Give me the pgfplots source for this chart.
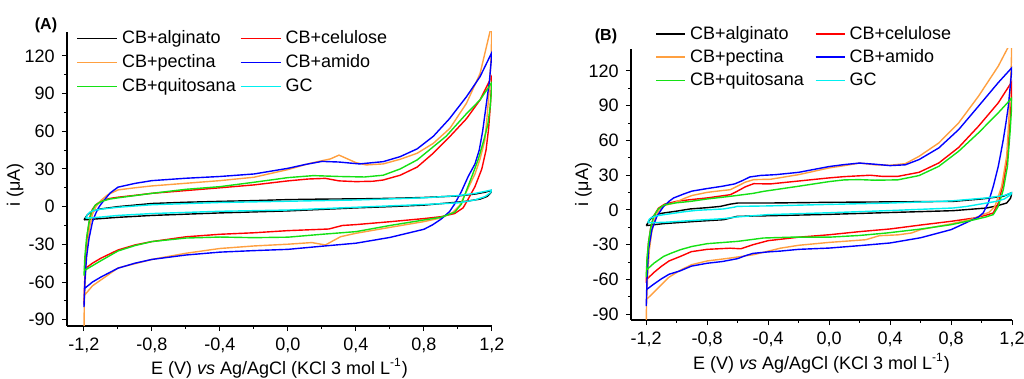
\documentclass[border=0pt]{standalone}
\usepackage{pgfplots}
\pgfplotsset{compat=1.18}
\usepackage{fontspec}
\setmainfont{Liberation Sans}
\definecolor{corange}{RGB}{255,160,64}
\definecolor{cgreen}{RGB}{20,225,20}
\definecolor{ccyan}{RGB}{0,240,240}
\definecolor{cblue}{RGB}{0,0,255}
\definecolor{cred}{RGB}{255,0,0}
\pgfplotsset{
  cvstyle/.style={
    scale only axis,
    axis x line*=bottom, axis y line*=left,
    axis line style={-, line width=0.6pt},
    tick align=outside,
    major tick length=2.6pt, minor tick length=1.5pt,
    every tick/.style={black, line width=0.5pt},
    xmin=-1.3, xmax=1.2, ymin=-95, ymax=139,
    xtick={-1.2,-0.8,-0.4,0,0.4,0.8,1.2},
    xticklabels={{-1,2},{-0,8},{-0,4},{0,0},{0,4},{0,8},{1,2}},
    minor x tick num=1,
    ytick={-90,-60,-30,0,30,60,90,120},
    yticklabels={-90,-60,-30,0,30,60,90,120},
    minor y tick num=1,
    tick label style={font=\fontsize{9}{10}\selectfont},
    label style={font=\fontsize{9}{10}\selectfont},
    xlabel={E (V) \textit{vs} Ag/AgCl (KCl 3 mol L\textsuperscript{-1})},
    ylabel={i (μA)},
    clip=true,
    legend columns=2,
    legend cell align=left,
    every axis plot/.append style={line width=0.7pt},
  }
}
\begin{document}
\begin{tikzpicture}
\useasboundingbox (0pt,0pt) rectangle (512pt,189.5pt);
% ================= Panel A =================
\begin{axis}[cvstyle,
  at={(33.5pt,26.5pt)}, anchor=south west,
  width=212.5pt, height=147pt,
  xlabel style={at={(axis description cs:0.5,-0.143)}, anchor=center},
  ylabel style={at={(axis description cs:-0.122,0.48)}, anchor=center, rotate=0},
  legend image code/.code={\draw[#1, line width=0.9pt] (0pt,0pt) -- (20pt,0pt);},
  legend style={draw=none, fill=none, font=\fontsize{9}{10}\selectfont,
    at={(axis description cs:0,1)}, anchor=north west, xshift=1.5pt, yshift=5pt,
    /tikz/every even column/.append style={column sep=0pt}},
]
\addplot[black] coordinates {(-1.2,-10.5) (-1.18,-6.5) (-1.15,-3.5) (-1.1,-1.8) (-1.0,0) (-0.8,2.5) (-0.6,3.5) (-0.4,4.2) (-0.2,4.8) (0.0,5.6) (0.2,6) (0.4,6.2) (0.6,6.6) (0.8,7.3) (1.0,8.5) (1.1,10) (1.16,11.5) (1.2,13) (1.19,10.5) (1.17,8) (1.13,6) (1.05,4.3) (1.0,3.6) (0.8,1.2) (0.6,0) (0.4,-1) (0.2,-2.2) (0.0,-3.4) (-0.4,-5) (-0.8,-7) (-1.0,-8.5) (-1.1,-9.5) (-1.2,-10.5)};
\addlegendentry{CB+alginato}
\addplot[cred] coordinates {(-1.2,-78) (-1.195,-55) (-1.19,-38) (-1.18,-22) (-1.165,-8) (-1.15,-2) (-1.13,1.5) (-1.1,4.5) (-1.05,6.5) (-1.0,7.5) (-0.9,9) (-0.8,10.6) (-0.6,12.8) (-0.4,15) (-0.2,17.3) (0.0,20.5) (0.12,22) (0.22,22.5) (0.3,20.5) (0.4,19.9) (0.5,20.2) (0.56,21.2) (0.66,25) (0.76,31.5) (0.85,42) (0.95,55.5) (1.05,70) (1.13,85) (1.2,104) (1.19,80) (1.18,62) (1.165,45) (1.14,30) (1.1,16) (1.06,6) (1.03,-1) (0.98,-5.5) (0.9,-8) (0.8,-9.5) (0.6,-12) (0.4,-14.3) (0.32,-15) (0.24,-17.8) (0.0,-19.1) (-0.2,-20.8) (-0.4,-22) (-0.6,-24) (-0.8,-27.8) (-0.9,-30.5) (-1.0,-34.5) (-1.1,-41) (-1.15,-45) (-1.2,-50)};
\addlegendentry{CB+celulose}
\addplot[corange] coordinates {(-1.2,-98) (-1.198,-75) (-1.19,-50) (-1.18,-30) (-1.165,-15) (-1.15,-6) (-1.13,0) (-1.1,5) (-1.06,9.5) (-1.0,13.3) (-0.9,15) (-0.8,16.5) (-0.6,18.6) (-0.4,20.7) (-0.2,23.4) (0.0,29.5) (0.13,34.5) (0.25,38) (0.3,41) (0.35,38) (0.4,35) (0.46,33.2) (0.56,34) (0.66,37.7) (0.76,42.5) (0.855,50.4) (0.953,62.4) (1.05,82.3) (1.13,106) (1.2,146) (1.195,120) (1.185,95) (1.17,70) (1.158,53) (1.13,38) (1.1,26) (1.05,12) (1.01,1) (0.97,-4.5) (0.9,-9) (0.8,-11.9) (0.6,-16.5) (0.4,-21.2) (0.31,-23.9) (0.22,-30.5) (0.14,-28.6) (0.0,-29.9) (-0.2,-31.3) (-0.4,-33.3) (-0.6,-37.1) (-0.8,-42) (-1.0,-48.8) (-1.1,-58.3) (-1.15,-63) (-1.2,-71)};
\addlegendentry{CB+pectina}
\addplot[cblue] coordinates {(-1.2,-80) (-1.195,-60) (-1.185,-40) (-1.17,-25) (-1.15,-12) (-1.133,-6) (-1.115,-1) (-1.1,2) (-1.07,7) (-1.045,11) (-1.0,15.5) (-0.9,18.5) (-0.8,20.7) (-0.6,22.6) (-0.4,24) (-0.2,26) (0.0,30.5) (0.1,33.5) (0.2,36) (0.3,35.5) (0.42,34) (0.56,35.8) (0.66,39.8) (0.76,46) (0.855,56) (0.95,70) (1.05,87.5) (1.13,103.5) (1.2,123) (1.185,100) (1.165,80) (1.145,60) (1.125,45) (1.1,34) (1.06,24) (1.02,12) (0.98,2) (0.95,-4) (0.9,-10) (0.85,-14.5) (0.8,-18) (0.6,-24.5) (0.4,-29.1) (0.2,-31.5) (0.0,-34) (-0.2,-35) (-0.4,-36.2) (-0.6,-38.5) (-0.8,-42) (-0.9,-45) (-1.0,-49) (-1.1,-56) (-1.15,-60) (-1.2,-65.5)};
\addlegendentry{CB+amido}
\addplot[cgreen] coordinates {(-1.2,-55) (-1.195,-40) (-1.185,-25) (-1.17,-12) (-1.155,-4) (-1.135,1) (-1.1,4) (-1.05,6) (-1.0,7) (-0.9,8.8) (-0.8,10.6) (-0.6,13.8) (-0.4,15.9) (-0.2,19.4) (0.0,23.1) (0.15,24.7) (0.3,24) (0.45,23.6) (0.56,25) (0.66,30) (0.76,37.2) (0.855,47.7) (0.93,56) (1.05,74) (1.13,85) (1.2,99) (1.19,80) (1.175,65) (1.15,52) (1.12,38) (1.09,27) (1.05,13) (1.02,2) (0.98,-4.5) (0.9,-8.5) (0.8,-10.6) (0.6,-15) (0.4,-19.9) (0.2,-22) (0.0,-24.3) (-0.2,-24.7) (-0.4,-24.2) (-0.6,-25) (-0.8,-27.8) (-0.9,-31) (-1.0,-35.3) (-1.1,-43) (-1.15,-47) (-1.2,-51)};
\addlegendentry{CB+quitosana}
\addplot[ccyan] coordinates {(-1.19,-9.2) (-1.18,-6.5) (-1.165,-4.3) (-1.14,-3) (-1.1,-2) (-1.0,-0.5) (-0.8,1.5) (-0.4,3.3) (0.0,4.3) (0.4,5.3) (0.8,7) (1.0,8.8) (1.1,10.5) (1.2,13.3) (1.19,11) (1.16,8) (1.1,5.3) (1.0,3) (0.8,1.7) (0.4,-0.5) (0.0,-2.7) (-0.4,-3.7) (-0.8,-5.5) (-1.0,-7) (-1.1,-8.3) (-1.19,-9.2)};
\addlegendentry{GC}
\end{axis}
% ================= Panel B =================
\begin{axis}[cvstyle,
  at={(315.5pt,29.5pt)}, anchor=south west,
  width=190.5pt, height=135.5pt,
  xlabel style={at={(axis description cs:0.5,-0.159)}, anchor=center},
  ylabel style={at={(axis description cs:-0.125,0.5)}, anchor=center, rotate=0},
  legend image code/.code={\draw[#1, line width=0.9pt] (0pt,0pt) -- (14.5pt,0pt);},
  legend style={draw=none, fill=none, font=\fontsize{9}{10}\selectfont,
    at={(axis description cs:0,1)}, anchor=north west, xshift=9pt, yshift=15.5pt,
    nodes={inner ysep=1.8pt},
    /tikz/every even column/.append style={column sep=3.5pt}},
]
\addplot[black] coordinates {(-1.2,-13.5) (-1.18,-9) (-1.15,-5) (-1.12,-3.5) (-1.086,-2.6) (-1.0,-1) (-0.911,0.9) (-0.8,2) (-0.713,3.1) (-0.65,5) (-0.6,6) (-0.4,6) (0.0,6.6) (0.4,7) (0.814,7.4) (1.0,9.5) (1.143,11.8) (1.2,15) (1.19,10) (1.165,6) (1.1,3.5) (1.033,1.7) (0.814,-0.6) (0.4,-2.2) (0.0,-3.8) (-0.4,-5) (-0.604,-5.5) (-0.65,-7) (-0.692,-8.4) (-0.867,-9.8) (-1.0,-11) (-1.086,-11.8) (-1.2,-13.5)};
\addlegendentry{CB+alginato}
\addplot[cred] coordinates {(-1.2,-63) (-1.195,-45) (-1.185,-28) (-1.17,-15) (-1.15,-5) (-1.12,1.5) (-1.08,5) (-1.0,7.5) (-0.911,8.9) (-0.8,10.4) (-0.648,13.2) (-0.604,16.1) (-0.55,20) (-0.495,22.7) (-0.385,22.5) (-0.2,25) (0.0,27.7) (0.1,28.8) (0.27,30) (0.35,29) (0.45,29) (0.59,32.5) (0.72,40.6) (0.85,54) (0.98,72.3) (1.11,92.5) (1.2,111) (1.198,100) (1.187,75.2) (1.17,46.4) (1.143,23.3) (1.11,6) (1.077,-2.6) (1.03,-4.5) (0.95,-7) (0.8,-9.8) (0.6,-13) (0.4,-16.4) (0.2,-18.7) (0.0,-21.4) (-0.2,-23.5) (-0.3,-25) (-0.4,-26.5) (-0.5,-30) (-0.58,-33.5) (-0.65,-33) (-0.8,-34) (-0.904,-36) (-0.976,-40.1) (-1.05,-44) (-1.101,-48.7) (-1.15,-54) (-1.2,-60.3)};
\addlegendentry{CB+celulose}
\addplot[corange] coordinates {(-1.2,-98) (-1.198,-80) (-1.19,-55) (-1.18,-35) (-1.165,-20) (-1.145,-8) (-1.12,-1) (-1.09,3.5) (-1.02,6) (-0.95,10) (-0.9,12.5) (-0.8,15.2) (-0.7,16.8) (-0.648,17.5) (-0.604,20.4) (-0.55,24) (-0.495,26.2) (-0.385,26.5) (-0.2,30.5) (0.0,36.3) (0.1,38.3) (0.2,40.5) (0.3,39) (0.4,38.6) (0.5,40) (0.59,46.3) (0.72,57.9) (0.85,75.2) (0.98,98.2) (1.11,124.2) (1.178,141.4) (1.2,150) (1.195,125) (1.187,100) (1.178,75) (1.165,46.4) (1.132,20.4) (1.088,3.1) (1.05,-2) (1.01,-4) (0.95,-7.5) (0.8,-12) (0.6,-17) (0.54,-19.9) (0.45,-21.5) (0.33,-22.2) (0.24,-25.7) (0.0,-28) (-0.2,-30.5) (-0.32,-33) (-0.495,-38.6) (-0.648,-41.5) (-0.8,-44) (-0.904,-47.3) (-0.976,-52) (-1.05,-58) (-1.101,-64.6) (-1.15,-71) (-1.2,-77.5)};
\addlegendentry{CB+pectina}
\addplot[cblue] coordinates {(-1.2,-83) (-1.195,-60) (-1.185,-34) (-1.163,-17) (-1.13,-5.5) (-1.1,0.5) (-1.086,3) (-1.05,7.5) (-1.02,10.4) (-0.95,14) (-0.9,16.3) (-0.8,18.5) (-0.7,20.5) (-0.62,22.5) (-0.575,25) (-0.52,28.5) (-0.45,29.8) (-0.35,30.5) (-0.2,32.5) (-0.1,35) (0.0,37.5) (0.1,39.2) (0.2,40.5) (0.3,39.5) (0.4,38.3) (0.5,39) (0.59,43.5) (0.72,53.6) (0.85,69.4) (0.98,89.6) (1.11,110) (1.2,123) (1.176,89.6) (1.16,75) (1.143,60.8) (1.125,48) (1.11,37.7) (1.077,20.4) (1.044,6) (1.011,-2.6) (0.98,-6) (0.915,-10) (0.85,-14) (0.8,-17) (0.6,-24) (0.4,-28.5) (0.2,-30.8) (0.0,-32.9) (-0.2,-34) (-0.32,-35.5) (-0.4,-36.2) (-0.5,-37.5) (-0.55,-39.5) (-0.6,-42) (-0.7,-44.5) (-0.8,-46) (-0.904,-48.5) (-0.976,-52.5) (-1.05,-55.5) (-1.101,-59.5) (-1.15,-64) (-1.2,-68.9)};
\addlegendentry{CB+amido}
\addplot[cgreen] coordinates {(-1.2,-58) (-1.195,-42) (-1.185,-28) (-1.17,-15) (-1.15,-5) (-1.12,1) (-1.08,4.5) (-1.0,6.2) (-0.911,7.4) (-0.8,9.5) (-0.648,11.8) (-0.5,14.3) (-0.429,16.1) (-0.2,20.5) (0.0,24.5) (0.1,26) (0.2,26.2) (0.3,25.7) (0.45,26) (0.59,29.7) (0.72,37.7) (0.85,50.7) (0.98,66.6) (1.11,83.9) (1.2,96.8) (1.198,90) (1.187,66.6) (1.17,37.7) (1.143,17.6) (1.11,3.1) (1.077,-4) (1.03,-6) (0.95,-8.5) (0.8,-12.7) (0.6,-16.5) (0.376,-19.9) (0.2,-22) (0.0,-23.5) (-0.25,-23.5) (-0.43,-24.2) (-0.6,-27.1) (-0.8,-29.1) (-0.9,-31.5) (-0.976,-34.3) (-1.04,-37.5) (-1.086,-40.1) (-1.15,-46) (-1.2,-52)};
\addlegendentry{CB+quitosana}
\addplot[ccyan] coordinates {(-1.19,-11) (-1.18,-8) (-1.165,-6.5) (-1.13,-5) (-1.086,-4.1) (-0.95,-1.5) (-0.867,-0.3) (-0.692,0.9) (-0.62,2.5) (-0.604,3.1) (-0.4,3.5) (0.0,4.8) (0.4,6) (0.8,7.8) (1.033,10.4) (1.15,12.5) (1.2,15) (1.19,13) (1.15,9.5) (1.1,7.5) (1.033,6) (0.9,3) (0.814,1.7) (0.4,-0.5) (0.0,-2.4) (-0.4,-4) (-0.604,-6) (-0.692,-7.5) (-0.867,-8.8) (-1.086,-10.7) (-1.19,-11)};
\addlegendentry{GC}
\end{axis}
\node[font=\fontsize{8}{9}\selectfont\bfseries] at (23pt,177pt) {(A)};
\node[font=\fontsize{8}{9}\selectfont\bfseries] at (303pt,171.25pt) {(B)};
\end{tikzpicture}
\end{document}
